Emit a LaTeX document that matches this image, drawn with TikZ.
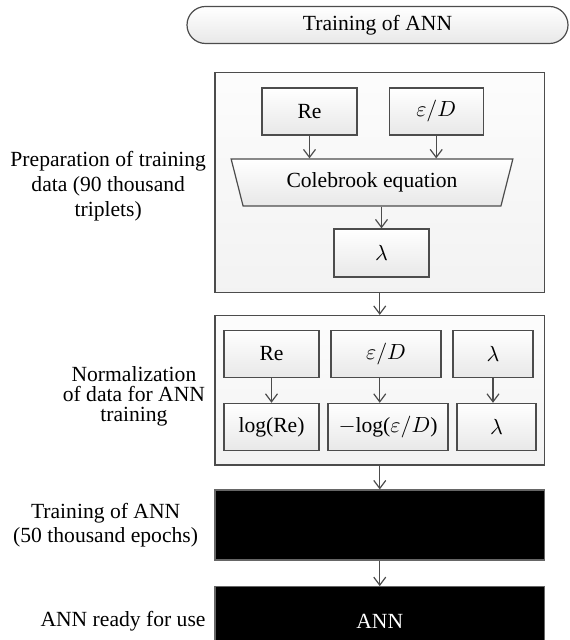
\documentclass[tikz,border=0pt]{standalone}
\usepackage{fontspec}
\setmainfont{Liberation Serif}
\usepackage{tikz}
\usetikzlibrary{arrows.meta,positioning,shapes.geometric}

\begin{document}
\begin{tikzpicture}[
        x=0.5pt, y=-0.5pt,
        font=\fontsize{10.8}{12.8}\selectfont,
        frame/.style={rectangle, draw=black!70, line width=0.6pt, top color=black!1, bottom color=black!5, minimum width=164.75pt},
        box/.style={rectangle, draw=black!70, line width=0.6pt, top color=white, bottom color=black!9, minimum height=23.5pt, inner sep=0pt},
        blackbox/.style={rectangle, draw=black!60, line width=0.6pt, fill=black, text=white, minimum width=164.75pt, minimum height=35pt},
        lbl/.style={align=center, inner sep=0pt},
        arr/.style={-{Straight Barb[length=4pt,width=6pt]}, draw=black!70, line width=0.6pt}
    ]
        \clip (0,0) rectangle (569,640);

        \node[box, rounded corners=9.25pt, minimum width=190.5pt, minimum height=18.5pt] (title) at (377.5,25) {Training of ANN};

        % preparation of training data
        \node[frame, minimum height=110pt] (prep) at (379.75,182.5) {};
        \node[box, minimum width=47.5pt] (re) at (309.5,111.5) {Re};
        \node[box, minimum width=47pt, right=15.5pt of re] (ed) {$\varepsilon/D$};
        \node[trapezium, shape border rotate=180, trapezium angle=68, trapezium stretches=true, draw=black!70, line width=0.6pt, top color=white, bottom color=black!9, minimum width=141pt, minimum height=23.5pt, inner sep=0pt] (cole) at (372,182.5) {Colebrook equation};
        \node[box, minimum width=47.5pt, minimum height=24pt] (lam) at (381.5,253) {$\lambda$};
        \node[lbl, font=\fontsize{10.8}{12.5}\selectfont, left=4pt of prep, yshift=-2pt] (preplbl) {Preparation of training\\data (90 thousand\\triplets)};

        \draw[arr] (re) -- (re.south |- cole.90);
        \draw[arr] (ed) -- (ed.south |- cole.90);
        \draw[arr] (cole.-90 -| lam.north) -- (lam);

        % normalization
        \node[frame, minimum height=74.75pt] (norm) at (379.75,390.25) {};
        \node[box, minimum width=47.5pt] (reA) at (271.5,353.7) {Re};
        \node[box, minimum width=55pt] (edA) at (386,353.7) {$\varepsilon/D$};
        \node[box, minimum width=40pt] (lamA) at (493,353.7) {$\lambda$};
        \node[box, minimum width=47.5pt, below=12.5pt of reA] (logre) {log(Re)};
        \node[box, minimum width=60pt, below=12.5pt of edA, xshift=1pt] (mlog) {$-$log($\varepsilon/D$)};
        \node[box, minimum width=39.5pt, below=12.5pt of lamA, xshift=1.75pt] (lamB) {$\lambda$};
        \node[lbl, font=\fontsize{10.8}{10}\selectfont, left=4.5pt of norm, yshift=-3pt] (normlbl) {Normalization\\of data for ANN\\training};

        \draw[arr] (reA) -- (logre);
        \draw[arr] (edA.south -| norm.center) -- (mlog.north -| norm.center);
        \draw[arr] (lamA) -- (lamA.south |- lamB.north);

        % training
        \node[blackbox] (train) at (379.75,525) {};
        \node[blackbox, below=12.75pt of train] (ann) {ANN};
        \node[lbl, font=\fontsize{10.8}{12}\selectfont, left=8pt of train] (trainlbl) {Training of ANN\\(50 thousand epochs)};
        \node[lbl, left=4.25pt of ann] (annlbl) {ANN ready for use};

        \draw[arr] (prep) -- (norm);
        \draw[arr] (norm) -- (train);
        \draw[arr] (train) -- (ann);
    \end{tikzpicture}
\end{document}
